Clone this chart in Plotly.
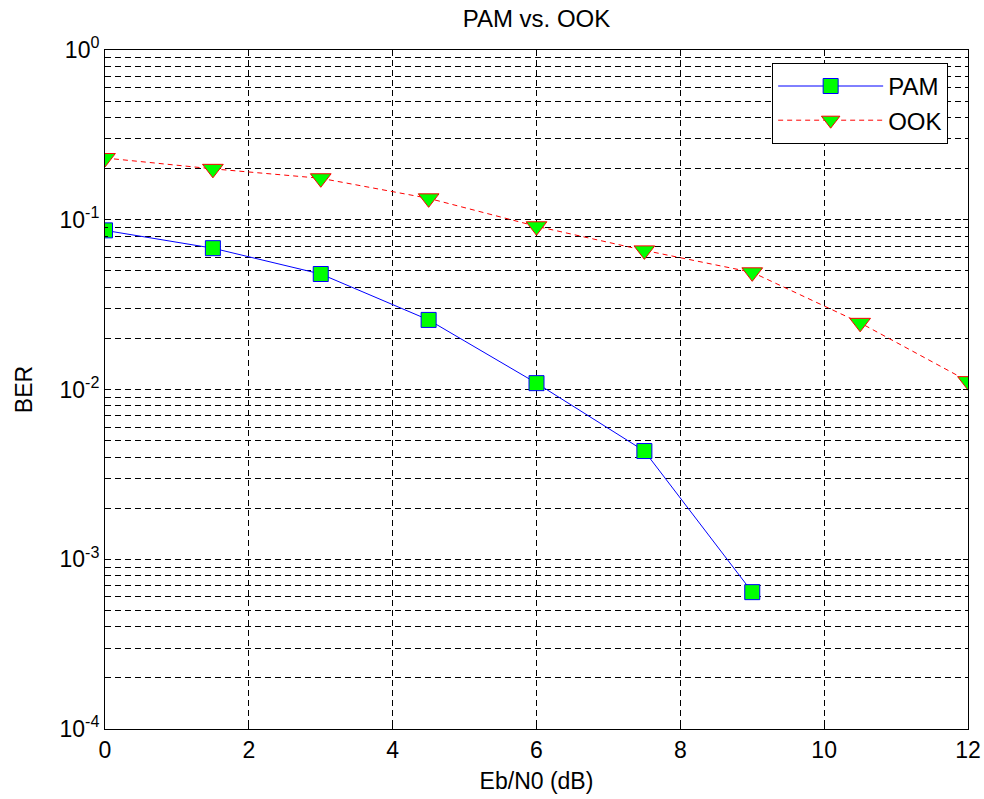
import plotly.graph_objects as go

ebn0_pam = [0, 1.5, 3, 4.5, 6, 7.5, 9]
ber_pam = [0.0866, 0.068, 0.0479, 0.0257, 0.0109, 0.00434, 0.00064]
ebn0_ook = [0, 1.5, 3, 4.5, 6, 7.5, 9, 10.5, 12]
ber_ook = [0.231, 0.1995, 0.1755, 0.1337, 0.0915, 0.066, 0.049, 0.0247, 0.0112]

x_ticks = [0, 2, 4, 6, 8, 10, 12]
y_major = [1e-4, 1e-3, 1e-2, 1e-1, 1e0]
y_major_text = ["10<sup>-4</sup>", "10<sup>-3</sup>", "10<sup>-2</sup>", "10<sup>-1</sup>", "10<sup>0</sup>"]
y_minor = [m * 10.0 ** e for e in range(-4, 0) for m in range(2, 10)]

FONT = "Liberation Sans"

fig = go.Figure()
fig.add_trace(go.Scatter(
    x=ebn0_pam, y=ber_pam, name="PAM", mode="lines+markers",
    line=dict(color="#0000ff", width=1),
    marker=dict(symbol="square", size=15, color="#00ff00", line=dict(color="#0000ff", width=1)),
))
fig.add_trace(go.Scatter(
    x=ebn0_ook, y=ber_ook, name="OOK", mode="lines+markers",
    line=dict(color="#ff0000", width=1, dash="5px,4px"),
    marker=dict(symbol="triangle-down", size=18, color="#00ff00", line=dict(color="#ff0000", width=1)),
))

grid_dash = "6px,4px"
tickfont = dict(family=FONT, size=23, color="black")
fig.update_layout(
    width=984, height=799,
    margin=dict(l=105, r=16, t=50, b=70),
    paper_bgcolor="white", plot_bgcolor="white",
    font=dict(family=FONT, size=23, color="black"),
    title=dict(text="PAM vs. OOK", x=(105 + 968) / 2 / 984, xanchor="center", y=1 - 19 / 799, yanchor="middle",
               font=dict(family=FONT, size=24, color="black"), automargin=False),
    xaxis=dict(
        range=[0, 12], tickvals=x_ticks, tickfont=tickfont, showgrid=True, gridcolor="black",
        griddash=grid_dash, gridwidth=1, automargin=False,
        showline=True, linecolor="black", linewidth=1, mirror="ticks", ticks="inside", ticklen=5,
        tickcolor="black", zeroline=False,
        title=dict(text="Eb/N0 (dB)", standoff=11, font=dict(family=FONT, size=23, color="black")),
    ),
    yaxis=dict(
        type="log", range=[-4, 0], tickvals=y_major, ticktext=y_major_text, tickfont=tickfont,
        showgrid=True, gridcolor="black", griddash=grid_dash, gridwidth=1, automargin=False,
        showline=True, linecolor="black", linewidth=1, mirror="ticks", ticks="inside", ticklen=5,
        tickcolor="black", zeroline=False,
        minor=dict(tickvals=y_minor, showgrid=True, gridcolor="black", griddash=grid_dash, gridwidth=1,
                   ticks="inside", ticklen=3, tickcolor="black"),
        title=dict(text="BER", standoff=20, font=dict(family=FONT, size=23, color="black")),
    ),
    legend=dict(
        x=0.977, y=0.981, xanchor="right", yanchor="top",
        bgcolor="white", bordercolor="black", borderwidth=1,
        font=dict(family=FONT, size=24, color="black"), itemwidth=105,
    ),
    showlegend=True,
)

fig.write_html("out.html")
